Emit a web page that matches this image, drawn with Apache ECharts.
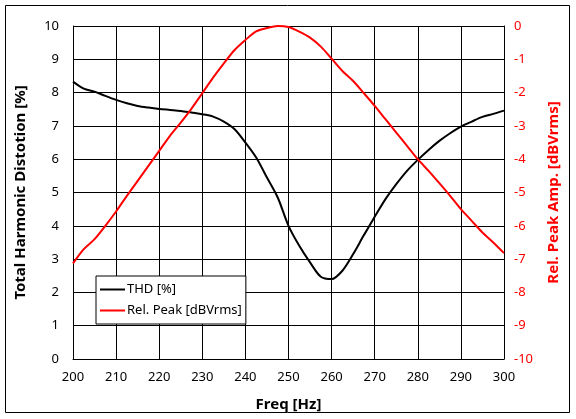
<!DOCTYPE html>
<html>
<head>
<meta charset="utf-8">
<script src="https://cdn.jsdelivr.net/npm/echarts@6/dist/echarts.min.js"></script>
<style>
html, body { margin: 0; padding: 0; background: #fff; }
#chart { width: 576px; height: 419px; }
</style>
</head>
<body>
<div id="chart"></div>
<script>
// frequency points [Hz]
var freq = [200, 202.5, 205, 207.5, 210, 212.5, 215, 217.5, 220, 222.5,
            225, 227.5, 230, 232.5, 235, 237.5, 240, 242.5, 245, 247.5,
            250, 252.5, 255, 257.5, 260, 262.5, 265, 267.5, 270, 272.5,
            275, 277.5, 280, 282.5, 285, 287.5, 290, 292.5, 295, 297.5, 300];

// THD [%]
var thd = [8.33, 8.12, 8.03, 7.9, 7.78, 7.68, 7.6, 7.55, 7.51, 7.48,
           7.45, 7.4, 7.35, 7.28, 7.13, 6.9, 6.5, 6.05, 5.45, 4.85,
           4.0, 3.4, 2.9, 2.47, 2.4, 2.65, 3.15, 3.72, 4.27, 4.8,
           5.25, 5.65, 5.98, 6.28, 6.55, 6.78, 6.98, 7.13, 7.27, 7.36, 7.46];

// Rel. Peak [dBVrms]
var relPeak = [-7.13, -6.7, -6.4, -6.0, -5.57, -5.1, -4.65, -4.2, -3.75, -3.3,
               -2.9, -2.48, -2.02, -1.55, -1.12, -0.72, -0.42, -0.16, -0.06, 0,
               -0.03, -0.17, -0.35, -0.62, -0.98, -1.35, -1.65, -2.02, -2.4, -2.8,
               -3.2, -3.6, -4.0, -4.35, -4.72, -5.1, -5.5, -5.85, -6.2, -6.5, -6.82];

var seriesNames = ['THD [%]', 'Rel. Peak [dBVrms]'];

function pairs(xs, ys) {
    return xs.map(function (x, i) { return [x, ys[i]]; });
}

var font = '"Noto Sans", "Open Sans", sans-serif';
var chart = echarts.init(document.getElementById('chart'));

var option = {
    animation: false,
    backgroundColor: '#fff',
    textStyle: { fontFamily: font },
    // outer frame
    graphic: [{
        type: 'rect',
        shape: { x: 5.5, y: 5.5, width: 564, height: 407 },
        style: { fill: 'none', stroke: '#000', lineWidth: 1 }
    }],
    grid: { left: 73, right: 72, top: 26, bottom: 60 },
    legend: {
        orient: 'vertical',
        left: 96,
        top: 276,
        data: seriesNames,
        icon: 'rect',
        backgroundColor: '#fff',
        borderColor: '#000',
        borderWidth: 1,
        borderRadius: 0,
        padding: [5, 4, 5, 4],
        itemGap: 4,
        itemWidth: 25,
        itemHeight: 2,
        textStyle: { fontFamily: font, fontSize: 13, color: '#000', lineHeight: 17, padding: [0, 0, 0, -3] }
    },
    xAxis: {
        type: 'value',
        min: 200, max: 300, interval: 10,
        name: 'Freq [Hz]',
        nameLocation: 'middle',
        nameGap: 38,
        nameTextStyle: { fontFamily: font, fontSize: 15, fontWeight: 'bold', color: '#000' },
        axisLine: { lineStyle: { color: '#000', width: 1 } },
        axisTick: { show: false },
        axisLabel: { color: '#000', fontSize: 13, margin: 12 },
        splitLine: { show: true, lineStyle: { color: '#000', width: 1 } }
    },
    yAxis: [{
        type: 'value',
        min: 0, max: 10, interval: 1,
        name: 'Total Harmonic Distotion [%]',
        nameLocation: 'middle',
        nameGap: 45,
        nameTextStyle: { fontFamily: font, fontSize: 15, fontWeight: 'bold', color: '#000' },
        axisLine: { show: true, lineStyle: { color: '#000', width: 1 } },
        axisTick: { show: false },
        axisLabel: { color: '#000', fontSize: 13, margin: 14 },
        splitLine: { show: true, lineStyle: { color: '#000', width: 1 } }
    }, {
        type: 'value',
        min: -10, max: 0, interval: 1,
        position: 'right',
        name: 'Rel. Peak Amp. [dBVrms]',
        nameLocation: 'middle',
        nameGap: 42,
        nameRotate: 90,
        nameTextStyle: { fontFamily: font, fontSize: 15, fontWeight: 'bold', color: '#f00' },
        axisLine: { show: true, lineStyle: { color: '#000', width: 1 } },
        axisTick: { show: false },
        axisLabel: { color: '#f00', fontSize: 13, margin: 10 },
        splitLine: { show: false }
    }],
    series: [{
        name: seriesNames[0],
        type: 'line',
        yAxisIndex: 0,
        data: pairs(freq, thd),
        symbol: 'none',
        smooth: 0.3,
        lineStyle: { color: '#000', width: 2 },
        itemStyle: { color: '#000' }
    }, {
        name: seriesNames[1],
        type: 'line',
        yAxisIndex: 1,
        data: pairs(freq, relPeak),
        symbol: 'none',
        smooth: 0.3,
        lineStyle: { color: '#f00', width: 2 },
        itemStyle: { color: '#f00' }
    }]
};

chart.setOption(option);
</script>
</body>
</html>
